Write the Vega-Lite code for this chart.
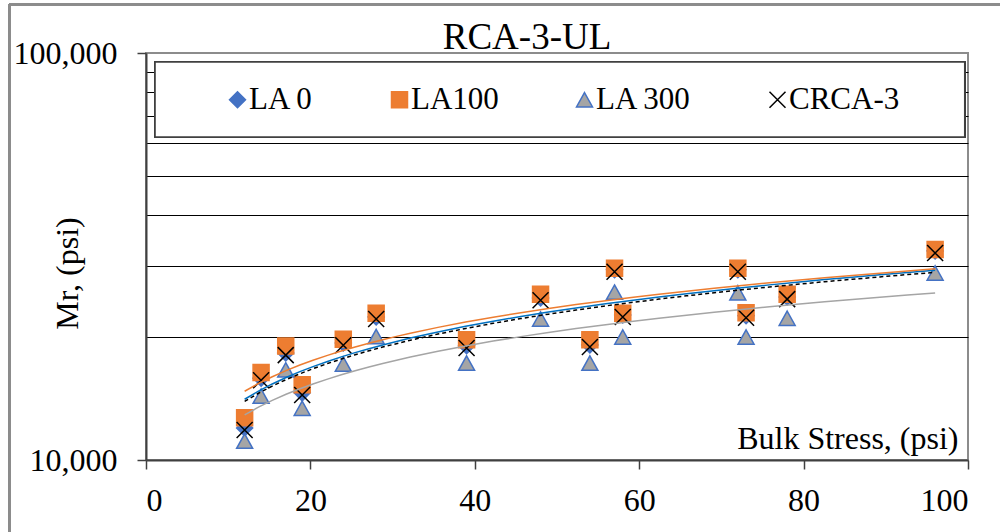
{
  "$schema": "https://vega.github.io/schema/vega-lite/v6.json",
  "autosize": {"type": "none"},
  "width": 822,
  "height": 407,
  "padding": {"left": 146, "top": 53, "right": 32, "bottom": 72},
  "background": "white",
  "title": {
    "text": "RCA-3-UL",
    "font": "Liberation Serif",
    "fontSize": 37,
    "fontWeight": "normal",
    "color": "black",
    "anchor": "middle",
    "frame": "group",
    "baseline": "alphabetic",
    "offset": 8,
    "dx": -30,
    "dy": 90
  },
  "datasets": {
    "mr": [
      {"series": "LA 0", "stress": 12, "mr": 11990},
      {"series": "LA 0", "stress": 14, "mr": 15890},
      {"series": "LA 0", "stress": 17, "mr": 18320},
      {"series": "LA 0", "stress": 19, "mr": 14620},
      {"series": "LA 0", "stress": 24, "mr": 19380},
      {"series": "LA 0", "stress": 28, "mr": 22470},
      {"series": "LA 0", "stress": 39, "mr": 19080},
      {"series": "LA 0", "stress": 48, "mr": 25000},
      {"series": "LA 0", "stress": 54, "mr": 19180},
      {"series": "LA 0", "stress": 57, "mr": 29350},
      {"series": "LA 0", "stress": 58, "mr": 22720},
      {"series": "LA 0", "stress": 72, "mr": 29350},
      {"series": "LA 0", "stress": 73, "mr": 22620},
      {"series": "LA 0", "stress": 78, "mr": 25150},
      {"series": "LA 0", "stress": 96, "mr": 32640},
      {"series": "LA100", "stress": 12, "mr": 12700},
      {"series": "LA100", "stress": 14, "mr": 16400},
      {"series": "LA100", "stress": 17, "mr": 19050},
      {"series": "LA100", "stress": 19, "mr": 15300},
      {"series": "LA100", "stress": 24, "mr": 19800},
      {"series": "LA100", "stress": 28, "mr": 22950},
      {"series": "LA100", "stress": 39, "mr": 19750},
      {"series": "LA100", "stress": 48, "mr": 25550},
      {"series": "LA100", "stress": 54, "mr": 19750},
      {"series": "LA100", "stress": 57, "mr": 29600},
      {"series": "LA100", "stress": 58, "mr": 22950},
      {"series": "LA100", "stress": 72, "mr": 29600},
      {"series": "LA100", "stress": 73, "mr": 23000},
      {"series": "LA100", "stress": 78, "mr": 25550},
      {"series": "LA100", "stress": 96, "mr": 32900},
      {"series": "LA 300", "stress": 12, "mr": 11130},
      {"series": "LA 300", "stress": 14, "mr": 14350},
      {"series": "LA 300", "stress": 17, "mr": 16650},
      {"series": "LA 300", "stress": 19, "mr": 13400},
      {"series": "LA 300", "stress": 24, "mr": 17200},
      {"series": "LA 300", "stress": 28, "mr": 20100},
      {"series": "LA 300", "stress": 39, "mr": 17300},
      {"series": "LA 300", "stress": 48, "mr": 22200},
      {"series": "LA 300", "stress": 54, "mr": 17300},
      {"series": "LA 300", "stress": 57, "mr": 25850},
      {"series": "LA 300", "stress": 58, "mr": 20050},
      {"series": "LA 300", "stress": 72, "mr": 25750},
      {"series": "LA 300", "stress": 73, "mr": 20050},
      {"series": "LA 300", "stress": 78, "mr": 22300},
      {"series": "LA 300", "stress": 96, "mr": 28800},
      {"series": "CRCA-3", "stress": 12, "mr": 11850},
      {"series": "CRCA-3", "stress": 14, "mr": 15700},
      {"series": "CRCA-3", "stress": 17, "mr": 18100},
      {"series": "CRCA-3", "stress": 19, "mr": 14450},
      {"series": "CRCA-3", "stress": 24, "mr": 19150},
      {"series": "CRCA-3", "stress": 28, "mr": 22200},
      {"series": "CRCA-3", "stress": 39, "mr": 18850},
      {"series": "CRCA-3", "stress": 48, "mr": 24700},
      {"series": "CRCA-3", "stress": 54, "mr": 18950},
      {"series": "CRCA-3", "stress": 57, "mr": 29000},
      {"series": "CRCA-3", "stress": 58, "mr": 22450},
      {"series": "CRCA-3", "stress": 72, "mr": 29000},
      {"series": "CRCA-3", "stress": 73, "mr": 22350},
      {"series": "CRCA-3", "stress": 78, "mr": 24850},
      {"series": "CRCA-3", "stress": 96, "mr": 32250}
    ]
  },
  "data": {"name": "mr"},
  "layer": [
    {
      "mark": {"type": "rect", "fill": null, "stroke": "#8c8c8c", "strokeWidth": 2, "clip": false},
      "encoding": {
        "x": {"datum": -16.55, "type": "quantitative"},
        "x2": {"datum": 110},
        "y": {"datum": 131300, "type": "quantitative"},
        "y2": {"datum": 3000}
      }
    },
    {
      "mark": {"type": "rect", "fill": "white", "stroke": "#404040", "strokeWidth": 1.5},
      "encoding": {
        "x": {"datum": 1.1, "type": "quantitative"},
        "x2": {"datum": 99.6},
        "y": {"datum": 95040, "type": "quantitative"},
        "y2": {"datum": 62180}
      }
    },
    {
      "mark": {"type": "point", "filled": true, "size": 256, "strokeWidth": 1.5, "opacity": 1},
      "encoding": {
        "x": {
          "field": "stress",
          "type": "quantitative",
          "scale": {"domain": [0, 100], "nice": false, "zero": false},
          "axis": {
            "title": "Bulk Stress, (psi)",
            "values": [0, 20, 40, 60, 80, 100],
            "grid": false,
            "titleX": 812,
            "titleY": -12,
            "titleAlign": "right",
            "titleBaseline": "alphabetic",
            "labelPadding": 16
          }
        },
        "y": {
          "field": "mr",
          "type": "quantitative",
          "scale": {"type": "log", "domain": [10000, 100000], "nice": false},
          "axis": {
            "title": "Mr, (psi)",
            "values": [10000, 20000, 30000, 40000, 50000, 60000, 70000, 80000, 90000, 100000],
            "format": ",",
            "labelExpr": "datum.value == 10000 || datum.value == 100000 ? datum.label : ''",
            "grid": true,
            "gridColor": "black",
            "gridWidth": 1,
            "gridOpacity": {"condition": {"test": "datum.value == 10000 || datum.value == 100000", "value": 0}, "value": 1},
            "tickOpacity": {"condition": {"test": "datum.value == 10000 || datum.value == 100000", "value": 1}, "value": 0},
            "labelPadding": 20,
            "titleX": -69,
            "titleY": 220,
            "titleAngle": 270,
            "titleAlign": "center",
            "titleBaseline": "alphabetic"
          }
        },
        "fill": {
          "field": "series",
          "type": "nominal",
          "scale": {"domain": ["LA 0", "LA100", "LA 300", "CRCA-3"], "range": ["#4472C4", "#ED7D31", "#A5A5A5", "black"]},
          "legend": {
            "title": null,
            "orient": "none",
            "direction": "horizontal",
            "columns": 4,
            "legendX": 76,
            "legendY": 31,
            "symbolSize": 256,
            "symbolStrokeWidth": 1.5,
            "labelFont": "Liberation Serif",
            "labelFontSize": 31,
            "labelColor": "black",
            "labelOffset": -4,
            "columnPadding": 70,
            "labelLimit": 300
          }
        },
        "stroke": {
          "field": "series",
          "type": "nominal",
          "scale": {"domain": ["LA 0", "LA100", "LA 300", "CRCA-3"], "range": ["#4472C4", "#ED7D31", "#4472C4", "black"]},
          "legend": {"title": null}
        },
        "shape": {
          "field": "series",
          "type": "nominal",
          "scale": {"domain": ["LA 0", "LA100", "LA 300", "CRCA-3"], "range": ["diamond", "square", "M0,-0.9L1,0.9L-1,0.9Z", "M-1,-1L1,1M-1,1L1,-1"]},
          "legend": {"title": null}
        }
      }
    },
    {
      "transform": [
        {"filter": "datum.series === 'LA 0'"},
        {"regression": "mr", "on": "stress", "method": "pow"}
      ],
      "mark": {"type": "line", "color": "#0070C0", "strokeWidth": 1.5},
      "encoding": {
        "x": {"field": "stress", "type": "quantitative"},
        "y": {"field": "mr", "type": "quantitative"}
      }
    },
    {
      "transform": [
        {"filter": "datum.series === 'LA100'"},
        {"regression": "mr", "on": "stress", "method": "pow"}
      ],
      "mark": {"type": "line", "color": "#ED7D31", "strokeWidth": 1.5},
      "encoding": {
        "x": {"field": "stress", "type": "quantitative"},
        "y": {"field": "mr", "type": "quantitative"}
      }
    },
    {
      "transform": [
        {"filter": "datum.series === 'LA 300'"},
        {"regression": "mr", "on": "stress", "method": "pow"}
      ],
      "mark": {"type": "line", "color": "#A5A5A5", "strokeWidth": 1.5},
      "encoding": {
        "x": {"field": "stress", "type": "quantitative"},
        "y": {"field": "mr", "type": "quantitative"}
      }
    },
    {
      "transform": [
        {"filter": "datum.series === 'CRCA-3'"},
        {"regression": "mr", "on": "stress", "method": "pow"}
      ],
      "mark": {"type": "line", "color": "black", "strokeWidth": 1.5, "strokeDash": [4, 3]},
      "encoding": {
        "x": {"field": "stress", "type": "quantitative"},
        "y": {"field": "mr", "type": "quantitative"}
      }
    }
  ],
  "config": {
    "font": "Liberation Serif",
    "view": {"stroke": "#8c8c8c", "strokeWidth": 2},
    "legend": {
      "labelFont": "Liberation Serif",
      "labelFontSize": 31,
      "labelColor": "black"
    },
    "axis": {
      "labelFont": "Liberation Serif",
      "labelFontSize": 32,
      "labelColor": "black",
      "labelOverlap": false,
      "labelBound": false,
      "titleFont": "Liberation Serif",
      "titleFontSize": 32,
      "titleFontWeight": "normal",
      "titleColor": "black",
      "domainColor": "#404040",
      "domainWidth": 2,
      "tickColor": "#404040",
      "tickWidth": 1.5,
      "tickSize": 9
    }
  }
}
